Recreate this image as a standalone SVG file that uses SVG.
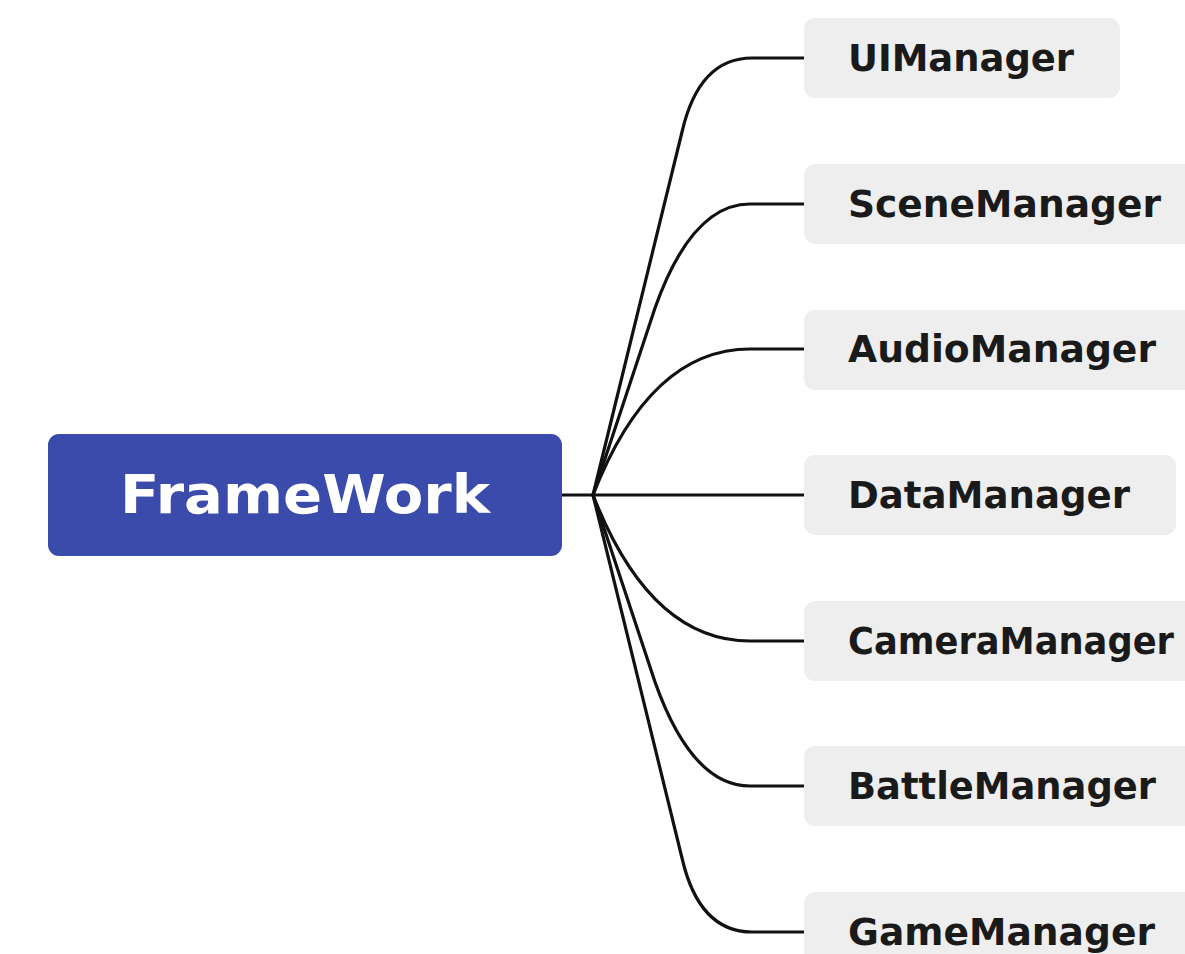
<svg xmlns="http://www.w3.org/2000/svg" width="1185" height="954" viewBox="0 0 1185 954">
<style>
.child rect{fill:#eeeeee}
.child text{font-family:"DejaVu Sans","Liberation Sans",sans-serif;font-weight:bold;font-size:37px;fill:#1a1a1a}
.conn path{fill:none;stroke:#111111;stroke-width:3.2;stroke-linecap:round}
</style>
<rect width="1185" height="954" fill="#ffffff"/>
<g id="connectors" class="conn">
<path d="M562,495 H804"/>
<path d="M593,495 L682,132 Q699,58 752,58 H804"/>
<path d="M593,495 L655,308 Q692,204 750,204 H804"/>
<path d="M593,495 Q650,349 750,349 H804"/>
<path d="M593,495 Q650,641 750,641 H804"/>
<path d="M593,495 L655,682 Q692,786 750,786 H804"/>
<path d="M593,495 L682,858 Q699,932 752,932 H804"/>
</g>
<g id="root">
<rect x="48" y="434" width="514" height="122" rx="11" fill="#3b4bab"/>
<text x="305" y="513" text-anchor="middle" textLength="370" lengthAdjust="spacingAndGlyphs" font-family="DejaVu Sans, Liberation Sans, sans-serif" font-weight="bold" font-size="53" fill="#ffffff">FrameWork</text>
</g>
<g id="ui" class="child"><rect x="804" y="18" width="316" height="80" rx="11"/><text x="848" y="71" textLength="226" lengthAdjust="spacingAndGlyphs">UIManager</text></g>
<g id="scene" class="child"><rect x="804" y="164" width="404" height="80" rx="11"/><text x="848" y="217" textLength="313" lengthAdjust="spacingAndGlyphs">SceneManager</text></g>
<g id="audio" class="child"><rect x="804" y="310" width="400" height="80" rx="11"/><text x="848" y="362" textLength="308" lengthAdjust="spacingAndGlyphs">AudioManager</text></g>
<g id="data" class="child"><rect x="804" y="455" width="372" height="80" rx="11"/><text x="848" y="508" textLength="282" lengthAdjust="spacingAndGlyphs">DataManager</text></g>
<g id="camera" class="child"><rect x="804" y="601" width="430" height="80" rx="11"/><text x="848" y="654" textLength="326" lengthAdjust="spacingAndGlyphs">CameraManager</text></g>
<g id="battle" class="child"><rect x="804" y="746" width="400" height="80" rx="11"/><text x="848" y="799" textLength="308" lengthAdjust="spacingAndGlyphs">BattleManager</text></g>
<g id="game" class="child"><rect x="804" y="892" width="400" height="80" rx="11"/><text x="848" y="945" textLength="307" lengthAdjust="spacingAndGlyphs">GameManager</text></g>
</svg>
